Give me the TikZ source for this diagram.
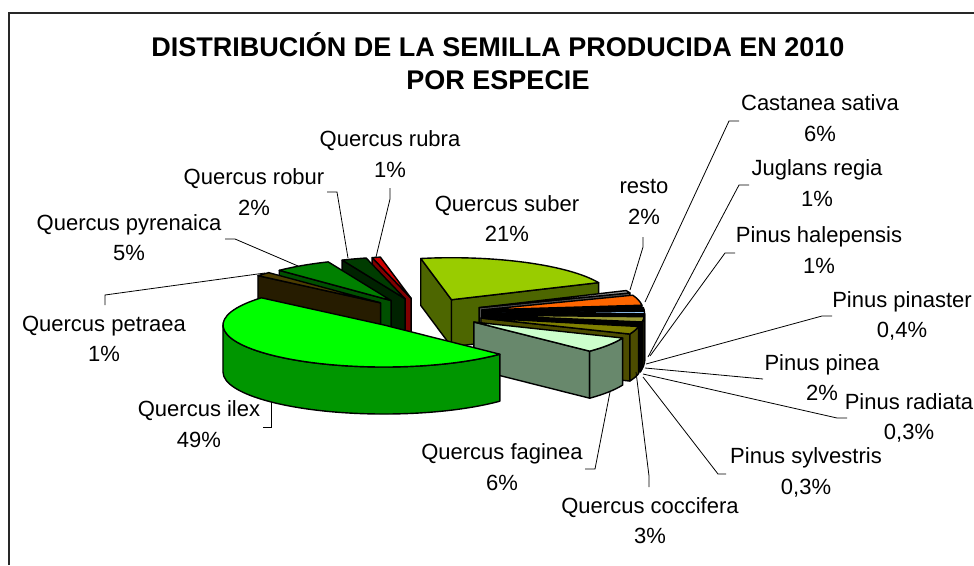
\documentclass[tikz,border=0pt]{standalone}
\usepackage{fontspec}
\setmainfont{Liberation Sans}
\usetikzlibrary{calc}
\definecolor{suberTop}{RGB}{153,204,0}
\definecolor{suberSide}{RGB}{77,102,0}
\definecolor{ilexTop}{RGB}{0,255,0}
\definecolor{ilexSide}{RGB}{0,150,0}
\definecolor{fagTop}{RGB}{204,255,204}
\definecolor{fagSide}{RGB}{104,136,108}
\definecolor{coccTop}{RGB}{128,128,0}
\definecolor{coccSide}{RGB}{77,77,0}
\definecolor{pineaTop}{RGB}{153,153,51}
\definecolor{pineaSide}{RGB}{60,60,20}
\definecolor{halTop}{RGB}{153,204,255}
\definecolor{castTop}{RGB}{255,102,0}
\definecolor{restoTop}{RGB}{150,150,150}
\definecolor{restoSide}{RGB}{80,80,80}
\definecolor{petrTop}{RGB}{77,61,0}
\definecolor{petrSide}{RGB}{38,28,0}
\definecolor{pyrTop}{RGB}{0,128,0}
\definecolor{pyrSide}{RGB}{0,80,0}
\definecolor{roburTop}{RGB}{0,60,0}
\definecolor{roburSide}{RGB}{0,34,0}
\definecolor{rubraTop}{RGB}{204,0,0}
\definecolor{rubraSide}{RGB}{128,0,0}
\definecolor{frameGray}{RGB}{40,40,40}

% pie geometry (pixels)
\newcommand{\pieCx}{424}
\newcommand{\pieCy}{313.5}
\newcommand{\pieRx}{161}
\newcommand{\pieRy}{42}
\newcommand{\pieH}{47}
\newcommand{\pieEx}{0.37}

% one exploded slice: start angle, end angle (clockwise), top colour, side colour
\newcommand{\pieslice}[4]{%
  \pgfmathsetmacro{\slMid}{(#1+#2)/2}%
  \pgfmathsetmacro{\slX}{\pieCx+\pieEx*\pieRx*cos(\slMid)}%
  \pgfmathsetmacro{\slY}{\pieCy-\pieEx*\pieRy*sin(\slMid)}%
  \pgfmathsetmacro{\slCa}{cos(#1)}%
  \pgfmathsetmacro{\slCb}{cos(#2)}%
  \pgfmathsetmacro{\slNa}{-(#1)}%
  \pgfmathsetmacro{\slNb}{-(#2)}%
  \pgfmathsetmacro{\slHi}{min(#1,0)}%
  \pgfmathsetmacro{\slLo}{max(#2,-180)}%
  \pgfmathsetmacro{\slNHi}{-(\slHi)}%
  \pgfmathsetmacro{\slNLo}{-(\slLo)}%
  \ifdim\slCa pt<0pt
    \filldraw[slice,fill=#4] (\slX,\slY) -- ++({\pieRx*cos(#1)},{-\pieRy*sin(#1)})
      -- ++(0,\pieH) -- ({\slX},{\slY+\pieH}) -- cycle;
  \fi
  \ifdim\slCb pt>0pt
    \filldraw[slice,fill=#4] (\slX,\slY) -- ++({\pieRx*cos(#2)},{-\pieRy*sin(#2)})
      -- ++(0,\pieH) -- ({\slX},{\slY+\pieH}) -- cycle;
  \fi
  \ifdim\slHi pt>\slLo pt
    \filldraw[slice,fill=#4] ({\slX+\pieRx*cos(\slHi)},{\slY-\pieRy*sin(\slHi)})
      arc[start angle=\slNHi,end angle=\slNLo,x radius=\pieRx,y radius=\pieRy]
      -- ++(0,\pieH)
      arc[start angle=\slNLo,end angle=\slNHi,x radius=\pieRx,y radius=\pieRy] -- cycle;
  \fi
  \filldraw[slice,fill=#3] (\slX,\slY) -- ++({\pieRx*cos(#1)},{-\pieRy*sin(#1)})
    arc[start angle=\slNa,end angle=\slNb,x radius=\pieRx,y radius=\pieRy] -- cycle;
}

\tikzset{
  slice/.style={draw=black, line width=1.4pt, line join=round},
  lbl/.style={align=center, inner sep=0pt, font=\fontsize{22}{30.5}\selectfont},
  leader/.style={draw=black, line width=0.8pt}
}

\begin{document}
\begin{tikzpicture}[x=1pt,y=-1pt]
\useasboundingbox (0,0) rectangle (974,565);
% frame
\draw[frameGray, line width=1.6pt] (9,565) -- (9,13) -- (974,13);

% title
\node[align=center, inner sep=0pt, font=\bfseries\fontsize{27}{33}\selectfont] (title) at (498,61) {DISTRIBUCIÓN DE LA SEMILLA PRODUCIDA EN 2010\\POR ESPECIE};

% slices, back to front
\pieslice{104}{101}{rubraTop}{rubraSide}
\pieslice{101}{24}{suberTop}{suberSide}
\pieslice{113}{104}{roburTop}{roburSide}
\pieslice{134}{113}{pyrTop}{pyrSide}
\pieslice{139.6}{134}{petrTop}{petrSide}
\pieslice{24}{20.5}{restoTop}{restoSide}
\pieslice{20.5}{6.4}{castTop}{black}
\pieslice{6.4}{2.8}{black}{black}
\pieslice{2.8}{-0.8}{halTop}{black}
\pieslice{-0.8}{-2.24}{black}{black}
\pieslice{-2.24}{-9.44}{pineaTop}{pineaSide}
\pieslice{-9.44}{-10.52}{black}{black}
\pieslice{-10.52}{-11.6}{black}{black}
\pieslice{-11.6}{-22.4}{coccTop}{coccSide}
\pieslice{-22.4}{-44}{fagTop}{fagSide}
\pieslice{-44}{-220.4}{ilexTop}{ilexSide}

% labels
\node[lbl] (suber) at (507,218.5) {Quercus suber\\21\%};
\node[lbl] (resto) at (644,202) {resto\\2\%};
\node[lbl] (castanea) at (820,118) {Castanea sativa\\6\%};
\node[lbl] (juglans) at (817,183) {Juglans regia\\1\%};
\node[lbl] (halepensis) at (819,250) {Pinus halepensis\\1\%};
\node[lbl] (pinaster) at (902,316) {Pinus pinaster\\0,4\%};
\node[lbl] (pinea) at (822,377.5) {Pinus pinea\\2\%};
\node[lbl] (radiata) at (909,418) {Pinus radiata\\0,3\%};
\node[lbl] (sylvestris) at (806,472.5) {Pinus sylvestris\\0,3\%};
\node[lbl] (coccifera) at (650,520.5) {Quercus coccifera\\3\%};
\node[lbl] (faginea) at (502,467) {Quercus faginea\\6\%};
\node[lbl] (ilex) at (199,424) {Quercus ilex\\49\%};
\node[lbl] (petraea) at (104,339) {Quercus petraea\\1\%};
\node[lbl] (pyrenaica) at (129,237.5) {Quercus pyrenaica\\5\%};
\node[lbl] (robur) at (254,192) {Quercus robur\\2\%};
\node[lbl] (rubra) at (390,154) {Quercus rubra\\1\%};

% leader points
\coordinate (rubra-a) at (390,188);   \coordinate (rubra-b) at (390,199);   \coordinate (rubra-c) at (376,257);
\coordinate (robur-a) at (327,192);   \coordinate (robur-b) at (337,192);   \coordinate (robur-c) at (348,258);
\coordinate (pyr-a) at (225,239);     \coordinate (pyr-b) at (235,239);     \coordinate (pyr-c) at (298,266);
\coordinate (petr-a) at (105,305);    \coordinate (petr-b) at (105,295);    \coordinate (petr-c) at (265,273);
\coordinate (ilex-a) at (263,427);    \coordinate (ilex-b) at (271,427);    \coordinate (ilex-c) at (271,402);
\coordinate (fag-a) at (585,469);     \coordinate (fag-b) at (595,469);     \coordinate (fag-c) at (610,392);
\coordinate (cocc-a) at (649,487);    \coordinate (cocc-b) at (649,476);    \coordinate (cocc-c) at (636,372);
\coordinate (sylv-a) at (726,474);    \coordinate (sylv-b) at (718,474);    \coordinate (sylv-c) at (643,377);
\coordinate (rad-a) at (847,418);     \coordinate (rad-b) at (837,418);     \coordinate (rad-c) at (643,374);
\coordinate (pinea-a) at (763,379);   \coordinate (pinea-c) at (645,368);
\coordinate (pinas-a) at (832,316);   \coordinate (pinas-b) at (822,316);   \coordinate (pinas-c) at (646,364);
\coordinate (hal-a) at (735,253);     \coordinate (hal-b) at (725,253);     \coordinate (hal-c) at (650,356);
\coordinate (jug-a) at (749,185);     \coordinate (jug-b) at (739,185);     \coordinate (jug-c) at (648,357);
\coordinate (cast-a) at (739,121);    \coordinate (cast-b) at (729,121);    \coordinate (cast-c) at (645,302);
\coordinate (resto-a) at (643,237);   \coordinate (resto-b) at (643,247);   \coordinate (resto-c) at (630,290);

% leaders
\draw[leader] (rubra-a) -- (rubra-b) -- (rubra-c);
\draw[leader] (robur-a) -- (robur-b) -- (robur-c);
\draw[leader] (pyr-a) -- (pyr-b) -- (pyr-c);
\draw[leader] (petr-a) -- (petr-b) -- (petr-c);
\draw[leader] (ilex-a) -- (ilex-b) -- (ilex-c);
\draw[leader] (fag-a) -- (fag-b) -- (fag-c);
\draw[leader] (cocc-a) -- (cocc-b) -- (cocc-c);
\draw[leader] (sylv-a) -- (sylv-b) -- (sylv-c);
\draw[leader] (rad-a) -- (rad-b) -- (rad-c);
\draw[leader] (pinea-a) -- (pinea-c);
\draw[leader] (pinas-a) -- (pinas-b) -- (pinas-c);
\draw[leader] (hal-a) -- (hal-b) -- (hal-c);
\draw[leader] (jug-a) -- (jug-b) -- (jug-c);
\draw[leader] (cast-a) -- (cast-b) -- (cast-c);
\draw[leader] (resto-a) -- (resto-b) -- (resto-c);
\end{tikzpicture}
\end{document}
